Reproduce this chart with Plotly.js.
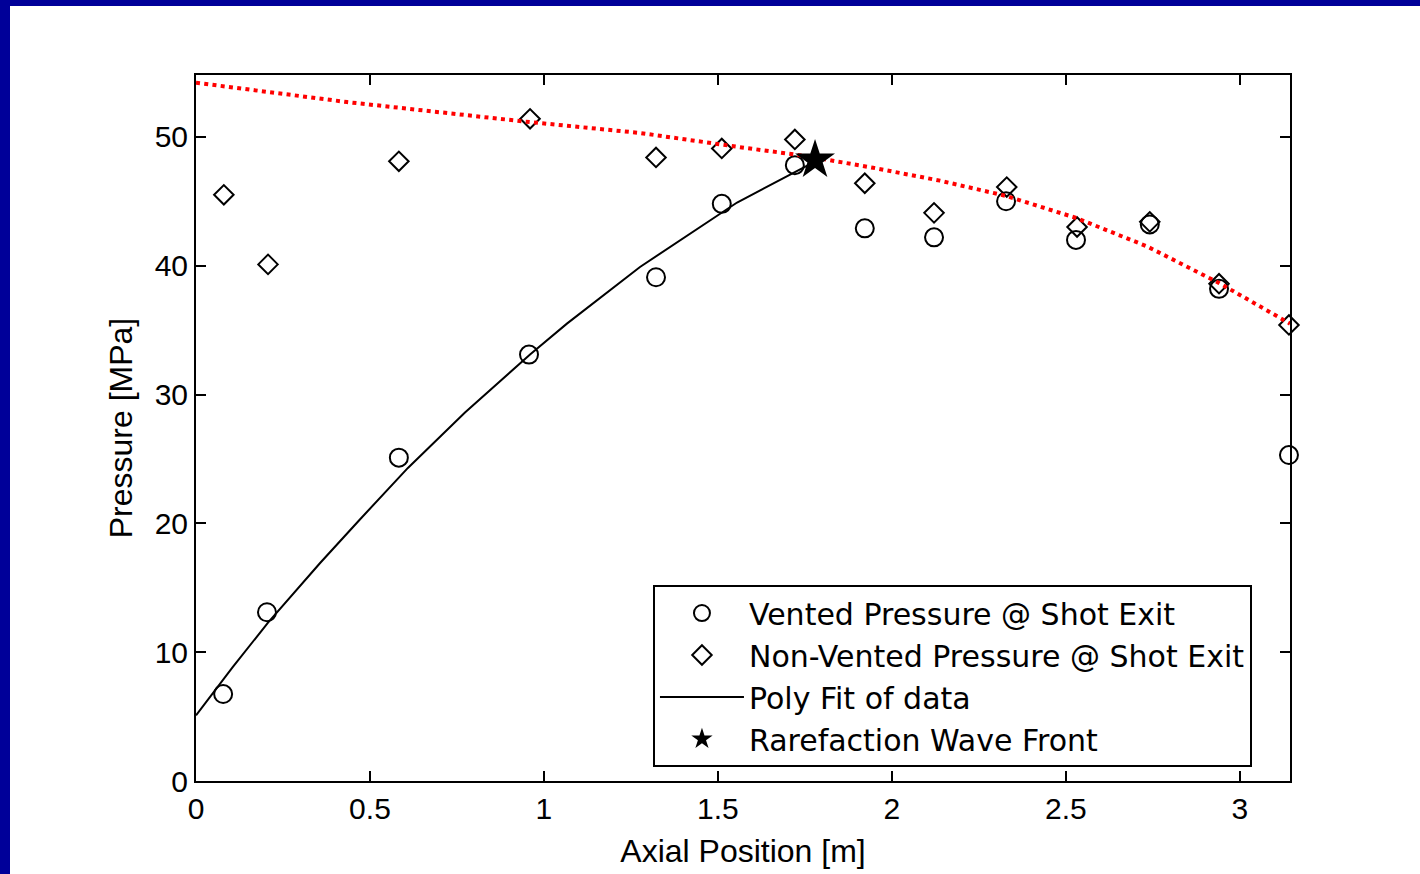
<!DOCTYPE html>
<html>
<head>
<meta charset="utf-8">
<script src="https://cdn.plot.ly/plotly-3.0.1.min.js"></script>
<style>
  html, body { margin: 0; padding: 0; background: #000099; width: 1420px; height: 874px; overflow: hidden; }
  #chart { position: absolute; left: 10px; top: 6px; width: 1410px; height: 868px; background: #ffffff; }
</style>
</head>
<body>
<div id="chart"></div>
<script>
// Gauge positions along the barrel [m]
const ventedX    = [0.078, 0.204, 0.583, 0.957, 1.322, 1.511, 1.721, 1.922, 2.121, 2.328, 2.529, 2.741, 2.940, 3.141];
// Vented pressure at shot exit [MPa]
const ventedP    = [6.75, 13.1, 25.1, 33.1, 39.1, 44.8, 47.8, 42.9, 42.2, 45.0, 42.0, 43.2, 38.2, 25.3];

const nonVentedX = [0.080, 0.207, 0.583, 0.960, 1.322, 1.511, 1.721, 1.922, 2.121, 2.330, 2.532, 2.741, 2.940, 3.141];
// Non-vented pressure at shot exit [MPa]
const nonVentedP = [45.5, 40.1, 48.1, 51.4, 48.4, 49.1, 49.8, 46.4, 44.1, 46.1, 43.0, 43.4, 38.6, 35.4];

// Polynomial fit through the vented data
const ventFitX = [0, 0.106, 0.207, 0.356, 0.471, 0.609, 0.773, 0.960, 1.066, 1.276, 1.555, 1.687, 1.78];
const ventFitP = [5.1, 8.85, 12.3, 16.9, 20.3, 24.3, 28.6, 33.1, 35.5, 39.9, 44.9, 46.8, 48.1];

// Fit through the non-vented data
const nonVentFitX = [0, 0.434, 0.94, 1.276, 1.563, 1.755, 1.946, 2.138, 2.330, 2.53, 2.733, 2.937, 3.144];
const nonVentFitP = [54.2, 52.7, 51.2, 50.3, 49.2, 48.5, 47.6, 46.6, 45.4, 43.7, 41.5, 38.7, 35.5];

// Rarefaction wave front
const waveX = [1.779];
const waveP = [48.2];

const xTicks = [0, 0.5, 1, 1.5, 2, 2.5, 3];
const yTicks = [0, 10, 20, 30, 40, 50];

const font = 'Arial, "Liberation Sans", sans-serif';
const legendFont = '"DejaVu Sans", Arial, sans-serif';

const traces = [
  {
    x: ventedX, y: ventedP, mode: 'markers', type: 'scatter', cliponaxis: false,
    name: 'Vented Pressure @ Shot Exit',
    marker: { symbol: 'circle-open', size: 18, color: '#000', line: { width: 2, color: '#000' } }
  },
  {
    x: nonVentedX, y: nonVentedP, mode: 'markers', type: 'scatter', cliponaxis: false,
    name: 'Non-Vented Pressure @ Shot Exit',
    marker: { symbol: 'diamond-open', size: 15, color: '#000', line: { width: 2, color: '#000' } }
  },
  {
    x: ventFitX, y: ventFitP, mode: 'lines', type: 'scatter',
    name: 'Poly Fit of data',
    line: { color: '#000', width: 2 }
  },
  {
    x: nonVentFitX, y: nonVentFitP, mode: 'lines', type: 'scatter',
    showlegend: false,
    line: { color: '#ff0000', width: 4, dash: '4px,4.3px' }
  },
  {
    x: waveX, y: waveP, mode: 'markers', type: 'scatter', cliponaxis: false,
    name: 'Rarefaction Wave Front',
    marker: { symbol: 'star', size: 30, color: '#000', line: { width: 0 } }
  }
];

const axisCommon = {
  showline: true, linecolor: '#000', linewidth: 2, mirror: 'ticks',
  ticks: 'inside', ticklen: 10, tickwidth: 2, tickcolor: '#000',
  showgrid: false, zeroline: false,
  tickfont: { family: font, size: 30, color: '#000' }
};

const layout = {
  width: 1410, height: 868,
  paper_bgcolor: '#ffffff', plot_bgcolor: '#ffffff',
  margin: { l: 186, r: 130, t: 69, b: 93 },
  showlegend: true,
  xaxis: Object.assign({}, axisCommon, {
    range: [0, 3.144], tickvals: xTicks, ticktext: xTicks.map(String),
    title: { text: 'Axial Position [m]', font: { family: font, size: 32, color: '#000' }, standoff: 16 }
  }),
  yaxis: Object.assign({}, axisCommon, {
    range: [0, 54.8], tickvals: yTicks, ticktext: yTicks.map(String),
    title: { text: 'Pressure [MPa]', font: { family: font, size: 32, color: '#000' }, standoff: 12 }
  }),
  legend: {
    x: 0.4177, y: 0.2776, xanchor: 'left', yanchor: 'top',
    bgcolor: '#ffffff', bordercolor: '#000', borderwidth: 2,
    font: { family: legendFont, size: 30, color: '#000' },
    itemwidth: 84, tracegroupgap: 0
  }
};

Plotly.newPlot('chart', traces, layout, { displayModeBar: false, staticPlot: true });
</script>
</body>
</html>
